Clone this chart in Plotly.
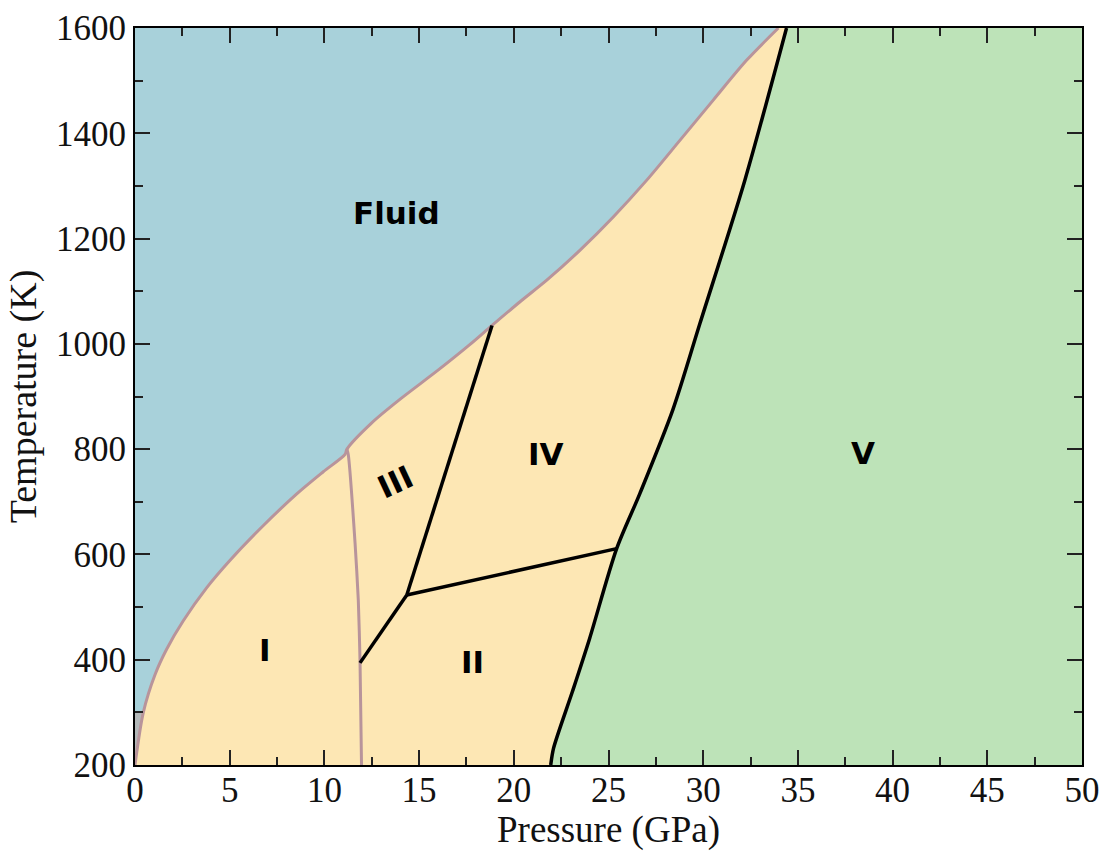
import plotly.graph_objects as go

# Melting curve (solid/fluid boundary), P in GPa, T in K
melt_P = [0, 0.44, 1.06, 1.67, 2.55, 3.79, 5.02, 6.78, 8.54, 9.94, 11.09, 11.19,
          12.5, 14.0, 16.0, 17.69, 18.85, 20.33, 21.74, 23.5, 25.25, 27.02,
          28.78, 30.53, 32.3, 33.97]
melt_T = [200, 300, 372, 420, 474, 537, 589, 655, 715, 757, 790, 800,
          850, 895, 950, 999, 1035, 1080, 1121, 1178, 1241, 1311,
          1387, 1463, 1539, 1600]

# I / III boundary
b13_P = [11.19, 11.26, 11.62, 11.79, 11.88, 11.96]
b13_T = [800, 790, 621, 513, 399, 200]

# boundary of phase V
v_P = [21.95, 22.1, 23.1, 24.0, 25.43, 26.66, 28.4, 29.83, 32.2, 34.4]
v_T = [200, 232, 340, 440, 611, 716, 875, 1039, 1311, 1600]

# other solid-solid boundaries
b23_P = [11.88, 14.35]
b23_T = [394, 523]
b34_P = [14.35, 18.85]
b34_T = [523, 1035]
b24_P = [14.35, 25.43]
b24_T = [523, 611]

# small grey patch near origin
grey_P = [0, 0, 0.44, 0.25, 0]
grey_T = [200, 300, 300, 260, 200]

labels = ["Fluid", "I", "II", "III", "IV", "V"]
label_P = [13.8, 6.85, 17.8, 13.75, 21.7, 38.45]
label_T = [1248, 418, 396, 738, 790, 793]
label_rot = [0, 0, 0, -25, 0, 0]

P_MAX, T_MIN, T_MAX = 50, 200, 1600

BLUE = "#a8d1da"
YELLOW = "#fde7b4"
GREEN = "#bde3b8"
MELT = "#b8949b"

fig = go.Figure()

# Fluid region: between top edge and melting curve
fig.add_trace(go.Scatter(x=[0, melt_P[-1]], y=[T_MAX, T_MAX], mode="lines",
                         line=dict(width=0), hoverinfo="skip", showlegend=False))
fig.add_trace(go.Scatter(x=melt_P, y=melt_T, mode="lines", fill="tonexty", fillcolor=BLUE,
                         line=dict(width=0, shape="spline", smoothing=0.8),
                         hoverinfo="skip", showlegend=False))
# Phase V region: between phase V boundary and right edge
fig.add_trace(go.Scatter(x=[P_MAX, P_MAX], y=[T_MIN, T_MAX], mode="lines",
                         line=dict(width=0), hoverinfo="skip", showlegend=False))
fig.add_trace(go.Scatter(x=v_P, y=v_T, mode="lines", fill="tonexty", fillcolor=GREEN,
                         line=dict(width=0, shape="spline", smoothing=0.8),
                         hoverinfo="skip", showlegend=False))
# grey patch
fig.add_trace(go.Scatter(x=grey_P, y=grey_T, fill="toself", fillcolor="#b3b8b9",
                         mode="lines", line=dict(width=0), hoverinfo="skip", showlegend=False))

# boundaries
fig.add_trace(go.Scatter(x=melt_P, y=melt_T, mode="lines",
                         line=dict(color=MELT, width=3, shape="spline", smoothing=0.8),
                         hoverinfo="skip", showlegend=False))
fig.add_trace(go.Scatter(x=b13_P, y=b13_T, mode="lines",
                         line=dict(color=MELT, width=3, shape="spline", smoothing=0.6),
                         hoverinfo="skip", showlegend=False))
fig.add_trace(go.Scatter(x=v_P, y=v_T, mode="lines",
                         line=dict(color="black", width=3.5, shape="spline", smoothing=0.8),
                         hoverinfo="skip", showlegend=False))
for xs, ys in [(b23_P, b23_T), (b34_P, b34_T), (b24_P, b24_T)]:
    fig.add_trace(go.Scatter(x=xs, y=ys, mode="lines",
                             line=dict(color="black", width=3.5),
                             hoverinfo="skip", showlegend=False))

for t, px, ty, rot in zip(labels, label_P, label_T, label_rot):
    fig.add_annotation(x=px, y=ty, text="<b>%s</b>" % t, showarrow=False,
                       textangle=rot,
                       font=dict(family="DejaVu Sans", size=31, color="black"))

axis_common = dict(
    showgrid=False, zeroline=False, showline=True, linecolor="black", linewidth=2,
    mirror="ticks", ticks="inside", ticklen=15, tickwidth=1.5, tickcolor="#222",
    tickfont=dict(family="Liberation Serif", size=35, color="#111"),
)

fig.update_xaxes(range=[0, P_MAX], dtick=5, tick0=0, ticklabelstandoff=-7,
                 title=dict(text="Pressure (GPa)",
                            font=dict(family="Liberation Serif", size=37, color="#111"),
                            standoff=2),
                 minor=dict(dtick=2.5, ticks="inside", ticklen=8, tickwidth=1.5, tickcolor="#222"),
                 **axis_common)
fig.update_yaxes(range=[T_MIN, T_MAX], dtick=200, tick0=200,
                 title=dict(text="Temperature (K)",
                            font=dict(family="Liberation Serif", size=38, color="#111"),
                            standoff=8),
                 minor=dict(dtick=100, ticks="inside", ticklen=8, tickwidth=1.5, tickcolor="#222"),
                 **axis_common)

fig.update_layout(
    width=1108, height=851,
    margin=dict(l=135, r=26, t=28, b=86, autoexpand=False),
    paper_bgcolor="white", plot_bgcolor=YELLOW,
)

fig.write_html("out.html", config={"displayModeBar": False},
               post_script="document.body.style.margin='0';document.body.style.overflow='hidden';")
